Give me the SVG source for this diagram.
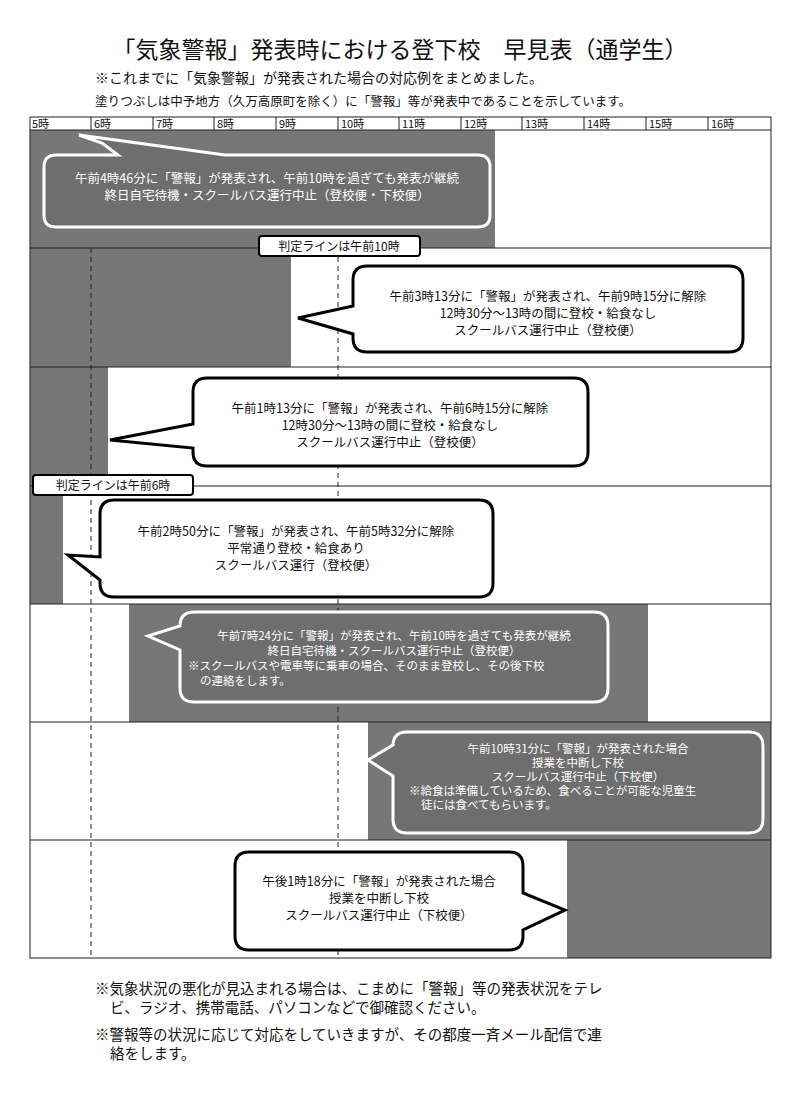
<svg xmlns="http://www.w3.org/2000/svg" width="800" height="1099" viewBox="0 0 800 1099">
<style>
text{font-family:"Noto Sans CJK JP","Noto Sans CJK SC",sans-serif;fill:#111}
.h{font-size:11px}
.c{font-size:12.5px;text-anchor:middle}
.s{font-size:11.5px}
.w{fill:#fff}
.g{fill:#777}
.grid{stroke:#222;stroke-width:1;fill:none}
.dash{stroke:#222;stroke-width:1;stroke-dasharray:5,4}
.cw{fill:#fff;stroke:#000;stroke-width:3}
.cd{fill:#6e6e6e;stroke:#fff;stroke-width:3}
.lb{fill:#fff;stroke:#000;stroke-width:2}
.f{font-size:14.5px}
</style>
<rect width="800" height="1099" fill="#fff"/>
<text x="400" y="58" font-size="23" text-anchor="middle">「気象警報」発表時における登下校　早見表（通学生）</text>
<text x="95" y="83" font-size="14">※これまでに「気象警報」が発表された場合の対応例をまとめました。</text>
<text x="95" y="106" font-size="12.5">塗りつぶしは中予地方（久万高原町を除く）に「警報」等が発表中であることを示しています。</text>
<g id="shading">
<rect class="g" x="30" y="130" width="465" height="118"/>
<rect class="g" x="30" y="248" width="261" height="119"/>
<rect class="g" x="30" y="367" width="78" height="119"/>
<rect class="g" x="30" y="486" width="33" height="118"/>
<rect class="g" x="129" y="604" width="519" height="118"/>
<rect class="g" x="368" y="722" width="403" height="118"/>
<rect class="g" x="567" y="840" width="204" height="118"/>
</g>
<g id="grid">
<rect class="grid" x="30" y="117" width="741" height="841"/>
<path class="grid" d="M30,130H771M30,248H771M30,367H771M30,486H771M30,604H771M30,722H771M30,840H771M91,117V130M153,117V130M214,117V130M276,117V130M338,117V130M399,117V130M461,117V130M522,117V130M584,117V130M646,117V130M708,117V130"/>
<path class="dash" d="M91,248V958M338,248V958"/>
<g class="h">
<text x="32" y="128">5時</text><text x="94" y="128">6時</text><text x="156" y="128">7時</text><text x="217" y="128">8時</text><text x="279" y="128">9時</text><text x="341" y="128">10時</text><text x="402" y="128">11時</text><text x="464" y="128">12時</text><text x="525" y="128">13時</text><text x="587" y="128">14時</text><text x="649" y="128">15時</text><text x="711" y="128">16時</text>
</g>
</g>
<g id="callout1">
<path class="cd" d="M56,155H118L102,143L79,135L225,155H478Q490,155 490,167V215Q490,227 478,227H56Q44,227 44,215V167Q44,155 56,155Z"/>
<text class="c w" x="267" y="183">午前4時46分に「警報」が発表され、午前10時を過ぎても発表が継続</text>
<text class="c w" x="267" y="200">終日自宅待機・スクールバス運行中止（登校便・下校便）</text>
</g>
<g id="label10">
<rect class="lb" x="259" y="236" width="161" height="20" rx="3"/>
<text x="339" y="251" font-size="12" text-anchor="middle">判定ラインは午前10時</text>
</g>
<g id="callout2">
<path class="cw" d="M367,266H729Q743,266 743,280V338Q743,352 729,352H367Q353,352 353,338V334L298,318L353,306V280Q353,266 367,266Z"/>
<text class="c" x="548" y="301">午前3時13分に「警報」が発表され、午前9時15分に解除</text>
<text class="c" x="548" y="318">12時30分～13時の間に登校・給食なし</text>
<text class="c" x="548" y="335">スクールバス運行中止（登校便）</text>
</g>
<g id="callout3">
<path class="cw" d="M207,378H574Q588,378 588,392V452Q588,466 574,466H207Q193,466 193,452V448L110,440L193,424V392Q193,378 207,378Z"/>
<text class="c" x="390" y="413">午前1時13分に「警報」が発表され、午前6時15分に解除</text>
<text class="c" x="390" y="430">12時30分～13時の間に登校・給食なし</text>
<text class="c" x="390" y="447">スクールバス運行中止（登校便）</text>
</g>
<g id="label6">
<rect class="lb" x="33" y="475" width="160" height="20" rx="3"/>
<text x="113" y="490" font-size="12" text-anchor="middle">判定ラインは午前6時</text>
</g>
<g id="callout4">
<path class="cw" d="M114,500H479Q493,500 493,514V583Q493,597 479,597H114Q100,597 100,583V580L68,555L100,557V514Q100,500 114,500Z"/>
<text class="c" x="296" y="536">午前2時50分に「警報」が発表され、午前5時32分に解除</text>
<text class="c" x="296" y="553">平常通り登校・給食あり</text>
<text class="c" x="296" y="570">スクールバス運行（登校便）</text>
</g>
<g id="callout5">
<path class="cd" d="M194,612H594Q608,612 608,626V688Q608,702 594,702H194Q180,702 180,688V650L148,636L180,626Q180,612 194,612Z"/>
<text class="c s w" x="394" y="640">午前7時24分に「警報」が発表され、午前10時を過ぎても発表が継続</text>
<text class="c s w" x="394" y="655">終日自宅待機・スクールバス運行中止（登校便）</text>
<text x="188" y="670" class="s w">※スクールバスや電車等に乗車の場合、そのまま登校し、その後下校</text>
<text x="200" y="685" class="s w">の連絡をします。</text>
</g>
<g id="callout6">
<path class="cd" d="M407,732H749Q763,732 763,746V819Q763,833 749,833H407Q393,833 393,819V776L368,760L393,745V746Q393,732 407,732Z"/>
<text class="c s w" x="578" y="753">午前10時31分に「警報」が発表された場合</text>
<text class="c s w" x="578" y="767">授業を中断し下校</text>
<text class="c s w" x="578" y="781">スクールバス運行中止（下校便）</text>
<text x="409" y="795" class="s w">※給食は準備しているため、食べることが可能な児童生</text>
<text x="421" y="809" class="s w">徒には食べてもらいます。</text>
</g>
<g id="callout7">
<path class="cw" d="M249,852H509Q523,852 523,866V893L565,910L523,930V936Q523,950 509,950H249Q235,950 235,936V866Q235,852 249,852Z"/>
<text class="c" x="379" y="886">午後1時18分に「警報」が発表された場合</text>
<text class="c" x="379" y="903">授業を中断し下校</text>
<text class="c" x="379" y="920">スクールバス運行中止（下校便）</text>
</g>
<g id="footer" class="f">
<text x="95" y="994">※気象状況の悪化が見込まれる場合は、こまめに「警報」等の発表状況をテレ</text>
<text x="110" y="1013">ビ、ラジオ、携帯電話、パソコンなどで御確認ください。</text>
<text x="95" y="1040">※警報等の状況に応じて対応をしていきますが、その都度一斉メール配信で連</text>
<text x="110" y="1059">絡をします。</text>
</g>
</svg>
